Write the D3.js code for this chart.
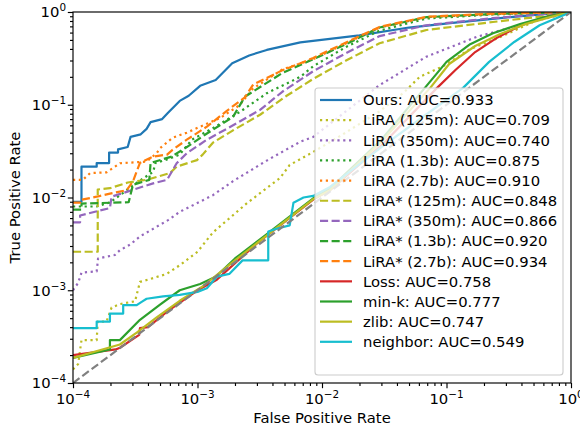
<!DOCTYPE html>
<html>
<head>
<meta charset="utf-8">
<script src="https://cdn.jsdelivr.net/npm/d3@7/dist/d3.min.js"></script>
<style>
  body { margin: 0; background: #fff; }
  text { font-family: "DejaVu Sans", sans-serif; fill: #000; }
</style>
</head>
<body>
<svg id="chart" width="580" height="428"></svg>
<script>
// [fpr, tpr] pairs
const ours = [[1e-4,0.009],[1.17e-4,0.009],[1.17e-4,0.0215],[1.55e-4,0.0215],[1.55e-4,0.0235],[1.95e-4,0.0235],[1.95e-4,0.0305],[2.3e-4,0.0305],[2.3e-4,0.033],[2.75e-4,0.035],[2.9e-4,0.045],[3.5e-4,0.048],[3.9e-4,0.055],[4.2e-4,0.065],[5.2e-4,0.07],[5.8e-4,0.082],[7.2e-4,0.11],[8.5e-4,0.125],[1.05e-3,0.16],[1.4e-3,0.185],[1.9e-3,0.28],[2.6e-3,0.34],[3.6e-3,0.39],[6.7e-3,0.47],[0.02,0.56],[0.05,0.68],[0.107,0.76],[0.27,0.86],[0.6,0.95],[1,1]];
const lira125m = [[1e-4,1.4e-4],[1.1e-4,1.6e-4],[1.17e-4,2.9e-4],[1.55e-4,2.9e-4],[1.58e-4,4.6e-4],[1.86e-4,4.6e-4],[2.04e-4,6.5e-4],[2.38e-4,7.1e-4],[3.15e-4,7.6e-4],[3.45e-4,1.23e-3],[4e-4,1.3e-3],[5.66e-4,1.5e-3],[7.2e-4,1.86e-3],[1e-3,2.6e-3],[1.33e-3,4.2e-3],[2.5e-3,8.7e-3],[4.6e-3,0.0162],[5.5e-3,0.0224],[8.5e-3,0.031],[0.014,0.046],[0.029,0.085],[0.045,0.134],[0.061,0.2],[0.094,0.26],[0.155,0.4],[0.24,0.5],[0.56,0.84],[1,1]];
const lira350m = [[1e-4,1.0e-3],[1.1e-4,1.2e-3],[1.17e-4,1.55e-3],[1.55e-4,1.6e-3],[1.59e-4,2.2e-3],[1.86e-4,2.3e-3],[2.17e-4,2.4e-3],[2.38e-4,2.7e-3],[2.87e-4,3.1e-3],[3.45e-4,3.8e-3],[5.8e-4,5.7e-3],[7.2e-4,7.0e-3],[1.33e-3,0.0106],[1.93e-3,0.015],[3.6e-3,0.025],[6.7e-3,0.04],[8.5e-3,0.045],[0.029,0.163],[0.069,0.33],[0.175,0.54],[0.56,0.82],[1,1]];
const lira13b = [[1e-4,8.0e-3],[1.55e-4,8.0e-3],[2.0e-4,8.9e-3],[3.2e-4,0.0142],[4.4e-4,0.0189],[4.6e-4,0.0236],[5.5e-4,0.0253],[7.2e-4,0.029],[9e-4,0.042],[1.33e-3,0.056],[2.2e-3,0.084],[3.6e-3,0.133],[6.7e-3,0.2],[8.5e-3,0.26],[0.0156,0.42],[0.029,0.63],[0.069,0.85],[0.236,0.94],[1,1]];
const lira27b = [[1e-4,0.0155],[1.2e-4,0.0155],[1.37e-4,0.0183],[1.86e-4,0.0187],[2.38e-4,0.0234],[3.9e-4,0.0244],[4.7e-4,0.03],[5e-4,0.034],[6.3e-4,0.044],[8.2e-4,0.05],[1.05e-3,0.058],[1.52e-3,0.072],[2.18e-3,0.099],[2.8e-3,0.15],[4.8e-3,0.24],[8.5e-3,0.31],[0.0156,0.46],[0.029,0.68],[0.069,0.88],[0.236,0.95],[1,1]];
const liraStar125m = [[1e-4,2.6e-3],[1.58e-4,2.6e-3],[1.58e-4,0.0122],[1.98e-4,0.0126],[2.76e-4,0.0145],[3.9e-4,0.0155],[6e-4,0.0183],[6.8e-4,0.0215],[9.9e-4,0.0253],[1.1e-3,0.029],[1.33e-3,0.039],[1.93e-3,0.053],[3.18e-3,0.078],[5.2e-3,0.125],[8.5e-3,0.19],[0.0156,0.3],[0.029,0.46],[0.069,0.64],[0.236,0.78],[0.6,0.9],[1,1]];
const liraStar350m = [[1e-4,5.4e-3],[1.14e-4,5.4e-3],[1.14e-4,6.4e-3],[1.98e-4,7.7e-3],[2.04e-4,0.0102],[4.4e-4,0.0142],[5.7e-4,0.0155],[6.8e-4,0.0234],[8.2e-4,0.03],[1.19e-3,0.042],[1.93e-3,0.06],[3.18e-3,0.088],[4.8e-3,0.138],[8.5e-3,0.23],[0.0156,0.36],[0.029,0.55],[0.069,0.72],[0.236,0.86],[1,1]];
const liraStar13b = [[1e-4,7.4e-3],[1.17e-4,7.4e-3],[1.17e-4,8.6e-3],[2.8e-4,8.9e-3],[3.03e-4,0.0137],[4.1e-4,0.0155],[4.2e-4,0.0236],[6.2e-4,0.0276],[8.2e-4,0.035],[1.19e-3,0.049],[1.93e-3,0.074],[2.4e-3,0.122],[4.8e-3,0.22],[8.5e-3,0.31],[0.0156,0.45],[0.029,0.68],[0.069,0.88],[0.236,0.95],[1,1]];
const liraStar27b = [[1e-4,8.8e-3],[1.14e-4,8.8e-3],[1.14e-4,9.4e-3],[1.55e-4,0.0102],[1.98e-4,0.011],[2.7e-4,0.012],[3.03e-4,0.0149],[3.45e-4,0.0236],[4.4e-4,0.0276],[5.7e-4,0.029],[6.3e-4,0.0326],[8.2e-4,0.042],[1.19e-3,0.058],[1.7e-3,0.085],[2.4e-3,0.12],[2.8e-3,0.165],[4.8e-3,0.235],[6.7e-3,0.28],[8.5e-3,0.32],[0.0156,0.47],[0.029,0.69],[0.069,0.89],[0.236,0.96],[1,1]];
const loss = [[1e-4,2.0e-4],[2.2e-4,2.3e-4],[2.38e-4,2.4e-4],[3.4e-4,3.3e-4],[3.45e-4,3.9e-4],[4e-4,4e-4],[6e-4,6.2e-4],[1e-3,1e-3],[1.43e-3,1.3e-3],[3e-3,3.2e-3],[8.5e-3,9.5e-3],[0.0116,0.012],[0.031,0.038],[0.084,0.152],[0.118,0.237],[0.17,0.37],[0.25,0.52],[0.39,0.71],[0.62,0.88],[1,1]];
const minK = [[1e-4,1.86e-4],[1.98e-4,2.3e-4],[1.98e-4,2.9e-4],[2.38e-4,2.9e-4],[3.45e-4,4.8e-4],[5e-4,7e-4],[7.2e-4,1e-3],[1.05e-3,1.17e-3],[1.4e-3,1.4e-3],[2e-3,2.2e-3],[3.5e-3,3.9e-3],[8.5e-3,9.8e-3],[0.0116,0.0125],[0.03,0.042],[0.067,0.152],[0.1,0.29],[0.155,0.45],[0.236,0.59],[0.39,0.74],[0.62,0.88],[1,1]];
const zlib = [[1e-4,1.86e-4],[2.38e-4,2.6e-4],[3.25e-4,3.5e-4],[4.7e-4,5.1e-4],[7.2e-4,7.7e-4],[1.1e-3,1.1e-3],[2e-3,2.1e-3],[8.5e-3,9.6e-3],[0.0116,0.012],[0.03,0.04],[0.074,0.152],[0.105,0.275],[0.17,0.43],[0.27,0.58],[0.43,0.74],[0.68,0.88],[1,1]];
const neighbor = [[1e-4,3.9e-4],[1.55e-4,3.9e-4],[1.55e-4,4.6e-4],[1.98e-4,4.6e-4],[1.98e-4,5.6e-4],[2.53e-4,5.6e-4],[2.53e-4,6.9e-4],[3.25e-4,6.9e-4],[3.56e-4,7.5e-4],[3.9e-4,8.1e-4],[5.3e-4,8.6e-4],[7.2e-4,8.9e-4],[1e-3,9.6e-4],[1.19e-3,1.05e-3],[1.43e-3,1.4e-3],[1.8e-3,1.5e-3],[2.3e-3,2.1e-3],[3.7e-3,2.1e-3],[3.7e-3,4.3e-3],[4.3e-3,4.6e-3],[5.5e-3,5.0e-3],[5.9e-3,8.8e-3],[7.1e-3,0.01],[8.5e-3,0.0104],[0.0116,0.013],[0.03,0.035],[0.07,0.08],[0.136,0.152],[0.22,0.29],[0.35,0.475],[0.56,0.72],[1,1]];
const chance = [[1e-4,1e-4],[1,1]];

const labels = ["Ours: AUC=0.933","LiRA (125m): AUC=0.709","LiRA (350m): AUC=0.740","LiRA (1.3b): AUC=0.875","LiRA (2.7b): AUC=0.910","LiRA* (125m): AUC=0.848","LiRA* (350m): AUC=0.866","LiRA* (1.3b): AUC=0.920","LiRA* (2.7b): AUC=0.934","Loss: AUC=0.758","min-k: AUC=0.777","zlib: AUC=0.747","neighbor: AUC=0.549"];
const colors = ["#1f77b4","#bcbd22","#9467bd","#2ca02c","#ff7f0e","#bcbd22","#9467bd","#2ca02c","#ff7f0e","#d62728","#2ca02c","#bcbd22","#17becf"];
const styles = ["solid","dotted","dotted","dotted","dotted","dashed","dashed","dashed","dashed","solid","solid","solid","solid"];
const curves = [ours,lira125m,lira350m,lira13b,lira27b,liraStar125m,liraStar350m,liraStar13b,liraStar27b,loss,minK,zlib,neighbor];
const majorTicks = [1e-4,1e-3,1e-2,1e-1,1];
const tickExps = ["\u22124","\u22123","\u22122","\u22121","0"];

const lw = 2.2;
const fs = "14.8px", fsSup = "10.4px";
const dash = {solid: null, dotted: "2.2,3.6", dashed: "8.1,3.5"};

const svg = d3.select("#chart");
const m = {left: 73, right: 571, top: 12, bottom: 383};
const x = d3.scaleLog().domain([1e-4, 1]).range([m.left, m.right]);
const y = d3.scaleLog().domain([1e-4, 1]).range([m.bottom, m.top]);

svg.append("defs").append("clipPath").attr("id", "clip")
  .append("rect").attr("x", m.left).attr("y", m.top)
  .attr("width", m.right - m.left).attr("height", m.bottom - m.top);

const minorTicks = [];
for (let e = -4; e < 0; e++) for (let k = 2; k <= 9; k++) minorTicks.push(k * Math.pow(10, e));

const line = d3.line().x(d => x(d[0])).y(d => y(d[1]));
const plot = svg.append("g").attr("clip-path", "url(#clip)");

curves.forEach((c, i) => {
  plot.append("path")
    .datum(c)
    .attr("d", line)
    .attr("fill", "none")
    .attr("stroke", colors[i])
    .attr("stroke-width", lw)
    .attr("stroke-linejoin", "round")
    .attr("stroke-dasharray", dash[styles[i]]);
});

plot.append("path")
  .datum(chance)
  .attr("d", line)
  .attr("fill", "none")
  .attr("stroke", "#808080")
  .attr("stroke-width", lw)
  .attr("stroke-dasharray", dash.dashed);

// axes
function styleAxis(g) {
  g.select(".domain").remove();
  g.selectAll("line").attr("stroke", "#000").attr("stroke-width", 1.15);
}
svg.append("g").attr("transform", `translate(0,${m.bottom})`)
  .call(d3.axisBottom(x).tickValues(majorTicks).tickSize(5.2).tickFormat(""))
  .call(styleAxis);
svg.append("g").attr("transform", `translate(0,${m.bottom})`)
  .call(d3.axisBottom(x).tickValues(minorTicks).tickSize(3).tickFormat(""))
  .call(styleAxis);
svg.append("g").attr("transform", `translate(${m.left},0)`)
  .call(d3.axisLeft(y).tickValues(majorTicks).tickSize(5.2).tickFormat(""))
  .call(styleAxis);
svg.append("g").attr("transform", `translate(${m.left},0)`)
  .call(d3.axisLeft(y).tickValues(minorTicks).tickSize(3).tickFormat(""))
  .call(styleAxis);

svg.append("rect")
  .attr("x", m.left).attr("y", m.top)
  .attr("width", m.right - m.left).attr("height", m.bottom - m.top)
  .attr("fill", "none").attr("stroke", "#000").attr("stroke-width", 1.15);

// tick labels with superscripts
const xl = svg.append("g").selectAll("text").data(majorTicks).join("text")
  .attr("x", d => x(d)).attr("y", 404)
  .attr("text-anchor", "middle").style("font-size", fs);
xl.append("tspan").text("10");
xl.append("tspan").attr("dy", -6).style("font-size", fsSup).text((d, i) => tickExps[i]);

const yl = svg.append("g").selectAll("text").data(majorTicks).join("text")
  .attr("x", 66).attr("y", d => y(d) + 5.3)
  .attr("text-anchor", "end").style("font-size", fs);
yl.append("tspan").text("10");
yl.append("tspan").attr("dy", -6).style("font-size", fsSup).text((d, i) => tickExps[i]);

svg.append("text").attr("x", (m.left + m.right) / 2).attr("y", 423)
  .attr("text-anchor", "middle").style("font-size", fs).text("False Positive Rate");
svg.append("text").attr("transform", `translate(20,${(m.top + m.bottom) / 2}) rotate(-90)`)
  .attr("text-anchor", "middle").style("font-size", fs).text("True Positive Rate");

// legend
const lg = svg.append("g");
lg.append("rect").attr("x", 315).attr("y", 88).attr("width", 248).attr("height", 287)
  .attr("rx", 3).attr("fill", "#fff").attr("fill-opacity", 0.8)
  .attr("stroke", "#cccccc").attr("stroke-width", 1.1);
const rows = lg.selectAll("g.row").data(labels).join("g").attr("class", "row")
  .attr("transform", (d, i) => `translate(0,${100 + i * 20.15})`);
rows.append("line").attr("x1", 320).attr("x2", 352)
  .attr("stroke", (d, i) => colors[i]).attr("stroke-width", lw)
  .attr("stroke-dasharray", (d, i) => dash[styles[i]]);
rows.append("text").attr("x", 363).attr("y", 5.3).style("font-size", fs).text(d => d);
</script>
</body>
</html>
